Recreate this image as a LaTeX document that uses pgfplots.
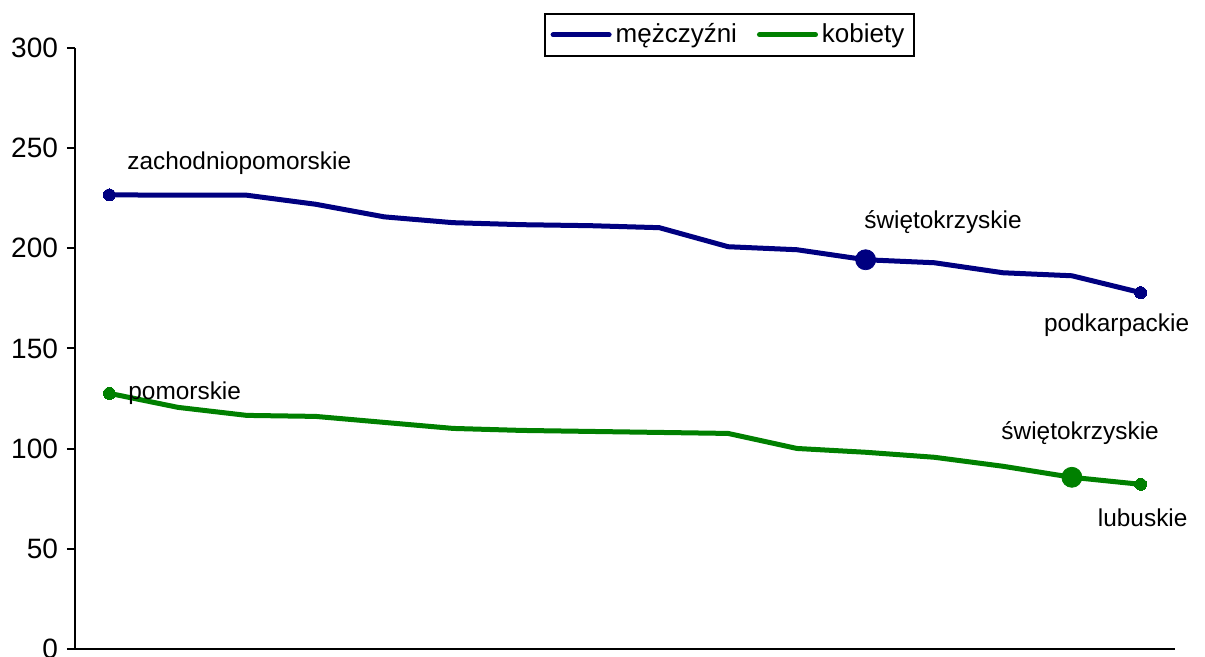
\documentclass[border=0pt]{standalone}
\usepackage{fontspec}
\setmainfont{Liberation Sans}
\usepackage{pgfplots}
\pgfplotsset{compat=1.18}
\definecolor{men}{RGB}{0,0,128}
\definecolor{women}{RGB}{0,128,0}
\begin{document}
\begin{tikzpicture}
\path[use as bounding box] (-37.5pt,-4pt) rectangle (565pt,324.5pt);
\begin{axis}[
  at={(0,0)}, anchor=south west,
  scale only axis, width=550pt, height=300.5pt,
  xmin=0.5, xmax=16.5, ymin=0, ymax=300,
  ytick={0,50,...,300}, xtick=\empty,
  axis x line*=bottom, axis y line*=left,
  axis line style={line width=1.2pt, -},
  tick align=outside, major tick length=4pt,
  every tick/.style={black, line width=1pt},
  /pgf/number format/assume math mode=true,
  yticklabel style={font=\fontsize{14}{16}\selectfont, xshift=-1pt},
  clip=false,
  legend columns=2,
  legend style={at={(0.595,1.022)}, anchor=center, draw=black, line width=0.9pt,
    font=\fontsize{13}{15}\selectfont, inner xsep=3pt, inner ysep=3pt,
    /tikz/every even column/.append style={column sep=8pt}},
  legend image code/.code={\draw[#1, mark=none, line cap=round] (0pt,0pt) -- (28pt,0pt);},
]
\addplot[men, line width=2.5pt, mark=*, mark indices={1,16}, mark size=3pt, mark options={line width=0pt}] coordinates {
(1,226.7)(2,226.5)(3,226.5)(4,222.0)(5,215.7)(6,212.8)(7,211.8)(8,211.3)
(9,210.3)(10,200.8)(11,199.3)(12,194.3)(13,192.8)(14,187.8)(15,186.3)(16,177.9)};
\addlegendentry{mężczyźni}
\addplot[women, line width=2.5pt, mark=*, mark indices={1,16}, mark size=3pt, mark options={line width=0pt}] coordinates {
(1,127.6)(2,120.6)(3,116.6)(4,116.1)(5,113.1)(6,110.1)(7,109.1)(8,108.6)
(9,108.1)(10,107.6)(11,100.1)(12,98.2)(13,95.7)(14,91.2)(15,85.7)(16,82.2)};
\addlegendentry{kobiety}
\addplot[men, only marks, mark=*, mark size=5pt, forget plot] coordinates {(12,194.3)};
\addplot[women, only marks, mark=*, mark size=5pt, forget plot] coordinates {(15,85.7)};
\begin{scope}[font=\fontsize{12.2}{14}\selectfont]
\node[anchor=west, inner sep=0pt] at (axis cs:1.256,242.6) {zachodniopomorskie};
\node[anchor=west, inner sep=0pt] at (axis cs:1.271,127.8) {pomorskie};
\node[inner sep=0pt] at (axis cs:13.125,213.2) {świętokrzyskie};
\node[inner sep=0pt] at (axis cs:15.65,161.8) {podkarpackie};
\node[inner sep=0pt] at (axis cs:15.12,107.8) {świętokrzyskie};
\node[inner sep=0pt] at (axis cs:16.03,65.4) {lubuskie};
\end{scope}
\end{axis}
\end{tikzpicture}
\end{document}
